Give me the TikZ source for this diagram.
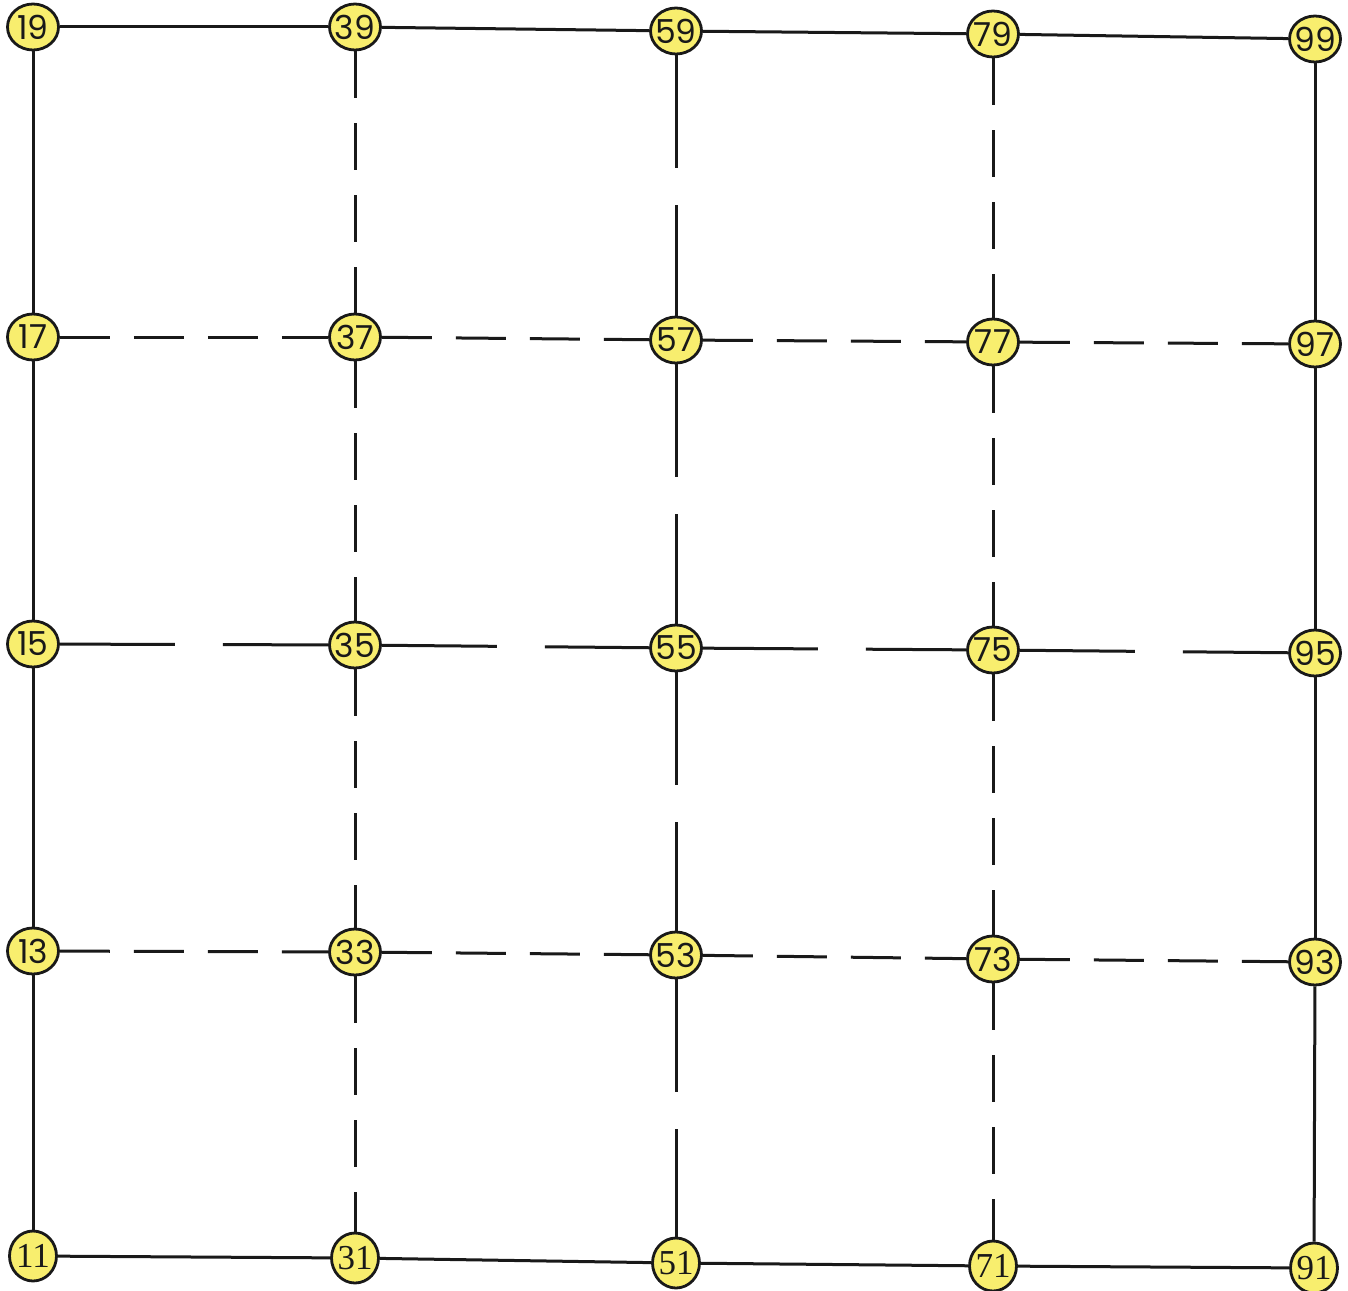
\documentclass[tikz,border=0pt]{standalone}
\usepackage{fontspec}
\newfontfamily\nodefont{Poppins}
\newfontfamily\serifnode{Liberation Serif}
\usetikzlibrary{shapes.geometric}
\newcommand\cl[1]{\smash{\raisebox{-0.5\height}{\makebox[0pt]{#1}}}}
\definecolor{nodeyellow}{RGB}{248,238,110}
\definecolor{ink}{RGB}{25,25,25}
\begin{document}
\begin{tikzpicture}[x=1pt,y=-1pt,
  pt/.style={ellipse, draw=ink, line width=2.8pt, fill=nodeyellow,
    minimum width=51pt, minimum height=46pt, inner sep=0pt,
    font=\nodefont\fontsize{33}{34}\selectfont, text=ink},
  bt/.style={pt, minimum width=47pt, minimum height=50pt,
    font=\serifnode\fontsize{35}{36}\selectfont},
  edge/.style={draw=ink, line width=3pt},
  sdashh/.style={edge, dash pattern=on 50pt off 24pt on 50pt off 24pt on 50pt off 24pt on 300pt off 1pt},
  sdashv/.style={edge, dash pattern=on 47pt off 25pt on 47pt off 25pt on 47pt off 25pt on 300pt off 1pt},
  ldashh/.style={edge, dash pattern=on 115pt off 48pt on 400pt off 1pt},
  ldashv/.style={edge, dash pattern=on 113pt off 37pt on 400pt off 1pt}]
\useasboundingbox (0,0) rectangle (1348,1290);
\fill[white] (0,0) rectangle (1348,1290);
% row 9
\node[pt] (n19) at (33,27) {\cl{19}};
\node[pt] (n39) at (355,27) {\cl{39}};
\node[pt] (n59) at (676,31) {\cl{59}};
\node[pt] (n79) at (993,34) {\cl{79}};
\node[pt] (n99) at (1315,39) {\cl{99}};
% row 7
\node[pt] (n17) at (33,337) {\cl{17}};
\node[pt] (n37) at (355,337) {\cl{37}};
\node[pt] (n57) at (676,340) {\cl{57}};
\node[pt] (n77) at (993,342) {\cl{77}};
\node[pt] (n97) at (1315,344) {\cl{97}};
% row 5
\node[pt] (n15) at (33,644) {\cl{15}};
\node[pt] (n35) at (355,645) {\cl{35}};
\node[pt] (n55) at (676,648) {\cl{55}};
\node[pt] (n75) at (993,650) {\cl{75}};
\node[pt] (n95) at (1315,653) {\cl{95}};
% row 3
\node[pt] (n13) at (33,951) {\cl{13}};
\node[pt] (n33) at (355,952) {\cl{33}};
\node[pt] (n53) at (676,955) {\cl{53}};
\node[pt] (n73) at (993,959) {\cl{73}};
\node[pt] (n93) at (1315,962) {\cl{93}};
% row 1
\node[bt] (n11) at (33,1256) {\cl{11}};
\node[bt] (n31) at (355,1258) {\cl{31}};
\node[bt] (n51) at (676,1263) {\cl{51}};
\node[bt] (n71) at (993,1266) {\cl{71}};
\node[bt] (n91) at (1314,1268) {\cl{91}};
% horizontal
\draw[edge] (n19) -- (n39); \draw[edge] (n39) -- (n59); \draw[edge] (n59) -- (n79); \draw[edge] (n79) -- (n99);
\draw[sdashh] (n17) -- (n37); \draw[sdashh] (n37) -- (n57); \draw[sdashh] (n57) -- (n77); \draw[sdashh] (n77) -- (n97);
\draw[ldashh] (n15) -- (n35); \draw[ldashh] (n35) -- (n55); \draw[ldashh] (n55) -- (n75); \draw[ldashh] (n75) -- (n95);
\draw[sdashh] (n13) -- (n33); \draw[sdashh] (n33) -- (n53); \draw[sdashh] (n53) -- (n73); \draw[sdashh] (n73) -- (n93);
\draw[edge] (n11) -- (n31); \draw[edge] (n31) -- (n51); \draw[edge] (n51) -- (n71); \draw[edge] (n71) -- (n91);
% vertical
\draw[edge] (n19) -- (n17); \draw[edge] (n17) -- (n15); \draw[edge] (n15) -- (n13); \draw[edge] (n13) -- (n11);
\draw[sdashv] (n39) -- (n37); \draw[sdashv] (n37) -- (n35); \draw[sdashv] (n35) -- (n33); \draw[sdashv] (n33) -- (n31);
\draw[ldashv] (n59) -- (n57); \draw[ldashv] (n57) -- (n55); \draw[ldashv] (n55) -- (n53); \draw[ldashv] (n53) -- (n51);
\draw[sdashv] (n79) -- (n77); \draw[sdashv] (n77) -- (n75); \draw[sdashv] (n75) -- (n73); \draw[sdashv] (n73) -- (n71);
\draw[edge] (n99) -- (n97); \draw[edge] (n97) -- (n95); \draw[edge] (n95) -- (n93); \draw[edge] (n93) -- (n91);
\end{tikzpicture}
\end{document}
